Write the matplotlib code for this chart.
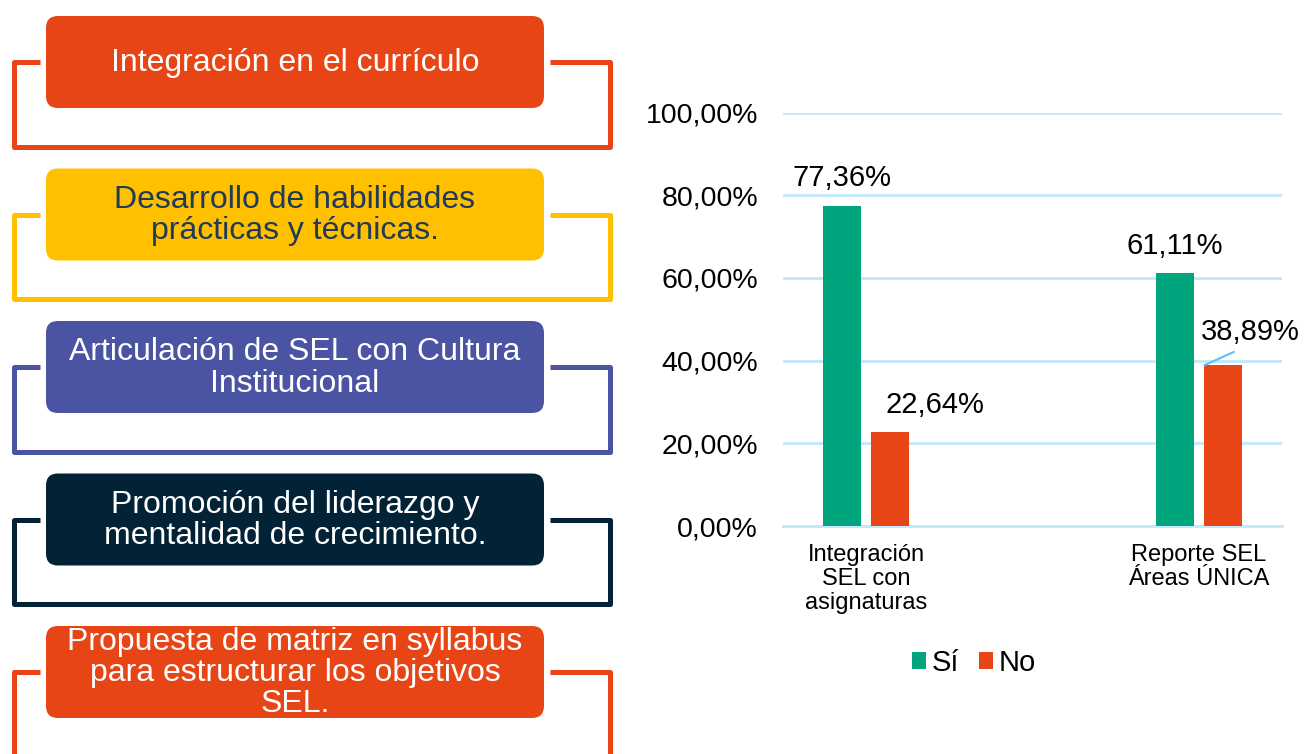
import matplotlib
matplotlib.use("Agg")
import matplotlib.pyplot as plt
from matplotlib.patches import FancyBboxPatch
import numpy as np

plt.rcParams['font.family'] = ['Liberation Sans', 'DejaVu Sans']

# diagram content
steps = [
    "Integración en el currículo",
    "Desarrollo de habilidades\nprácticas y técnicas.",
    "Articulación de SEL con Cultura\nInstitucional",
    "Promoción del liderazgo y\nmentalidad de crecimiento.",
    "Propuesta de matriz en syllabus\npara estructurar los objetivos\nSEL.",
]
step_colors = ["#E84516", "#FFC000", "#4B53A3", "#022236", "#E84516"]
step_text_colors = ["white", "#1F3A5A", "white", "white", "white"]

# chart data
categories = ["Integración\nSEL con\nasignaturas", "Reporte SEL\nÁreas ÚNICA"]
si = [77.36, 61.11]
no = [22.64, 38.89]
si_labels = ["77,36%", "61,11%"]
no_labels = ["22,64%", "38,89%"]
yticks = [0, 20, 40, 60, 80, 100]
ytick_labels = ["0,00%", "20,00%", "40,00%", "60,00%", "80,00%", "100,00%"]

GREEN = "#00A47D"
RED = "#E84516"
GRID = "#C3E7FB"

W, H = 1304, 754
fig = plt.figure(figsize=(W / 100, H / 100), dpi=100)

# ---- left diagram (pixel coordinates) ----
dax = fig.add_axes([0, 0, 1, 1])
dax.set_xlim(0, W)
dax.set_ylim(H, 0)
dax.axis("off")

for i, (txt, col, tcol) in enumerate(zip(steps, step_colors, step_text_colors)):
    top = 16 + i * 152.5
    mid = top + 46
    bot = mid + 84.5
    # bracket outline
    dax.plot([40, 13.5, 13.5, 610, 610, 550], [mid, mid, bot, bot, mid, mid],
             color=col, lw=3.6, solid_joinstyle="round", solid_capstyle="butt", zorder=1)
    box = FancyBboxPatch((46 + 12, top + 12), 498 - 24, 92 - 24,
                         boxstyle="round,pad=12", fc=col, ec="none", zorder=2)
    dax.add_patch(box)
    dax.text(295, mid + 1, txt, ha="center", va="center", color=tcol,
             fontsize=23, linespacing=1.05, zorder=3)

# ---- bar chart ----
left, right, ytop, ybot = 783, 1282, 112.5, 526
ax = fig.add_axes([left / W, 1 - ybot / H, (right - left) / W, (ybot - ytop) / H])
x = np.arange(len(categories))
bw = 0.114
off = 0.072
ax.bar(x - off, si, bw, color=GREEN, zorder=3, label="Sí")
ax.bar(x + off, no, bw, color=RED, zorder=3, label="No")
ax.set_xlim(-0.25, 1.25)
ax.set_ylim(0, 100)
ax.set_yticks(yticks)
ax.set_yticklabels(ytick_labels, fontsize=20.5)
ax.set_xticks(x)
ax.set_xticklabels(categories, fontsize=17, linespacing=1.12, va="top")
ax.tick_params(axis="both", length=0)
ax.tick_params(axis="y", pad=18)
ax.tick_params(axis="x", pad=13)
ax.grid(axis="y", color=GRID, lw=2, zorder=0)
ax.axhline(0, color=GRID, lw=2, zorder=2, clip_on=False)
for s in ax.spines.values():
    s.set_visible(False)

# data labels
for xi, v, lab in zip(x, si, si_labels):
    ax.annotate(lab, (xi - off, v), xytext=(0, 20), textcoords="offset points",
                ha="center", va="center", fontsize=21)
ax.annotate(no_labels[0], (x[0] + off, no[0]), xytext=(32, 20), textcoords="offset points",
            ha="center", va="center", fontsize=21)
ax.annotate(no_labels[1], (x[1] + off - 0.055, no[1]), xytext=(33, 24),
            textcoords="offset points", ha="center", va="center", fontsize=21)
ax.plot([x[1] + off - 0.055, x[1] + off + 0.033], [no[1], no[1] + 3.2],
        color="#5BC0F8", lw=1.5, zorder=4)

fig.legend(loc="center", bbox_to_anchor=(974 / W, 1 - 663 / H), ncol=2, frameon=False,
           fontsize=21, handlelength=0.5, handleheight=0.5, handletextpad=0.2,
           columnspacing=0.65)

fig.savefig("out.png", dpi=100)
